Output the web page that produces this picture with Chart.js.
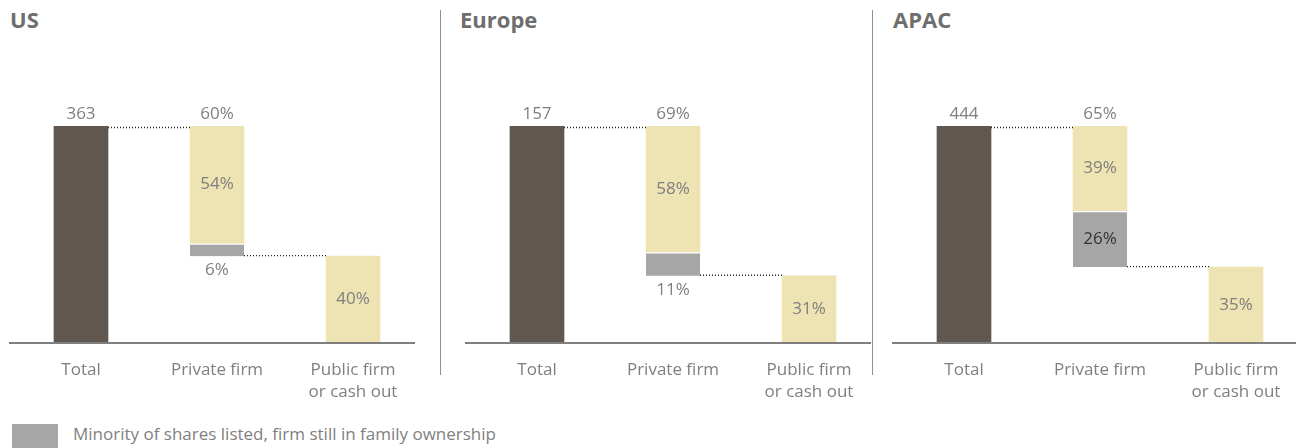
<!DOCTYPE html>
<html>
<head>
<meta charset="utf-8">
<script src="https://cdn.jsdelivr.net/npm/chart.js@4.4.1/dist/chart.umd.min.js"></script>
<style>
  html, body { margin: 0; padding: 0; background: #fff; }
  body { width: 1296px; height: 448px; position: relative; overflow: hidden; font-family: 'Open Sans', sans-serif; }
  .title { position: absolute; top: 4px; font-size: 22px; font-weight: bold; color: #6e6e6e; }
  .sep { position: absolute; top: 10px; width: 1px; height: 365px; background: #8f8f8f; }
  .panel { position: absolute; top: 90px; width: 428px; height: 320px; }
  .legend-box { position: absolute; left: 12px; top: 424px; width: 46px; height: 24px; background: #a6a6a6; }
  .legend-text { position: absolute; left: 73px; top: 422px; font-size: 17px; color: #7f7f7f; }
</style>
</head>
<body>
<div class="title" style="left:10px">US</div>
<div class="title" style="left:460px">Europe</div>
<div class="title" style="left:893px">APAC</div>
<div class="sep" style="left:440px"></div>
<div class="sep" style="left:872px"></div>
<div class="panel" style="left:3px"><canvas id="chart0"></canvas></div>
<div class="panel" style="left:459px"><canvas id="chart1"></canvas></div>
<div class="panel" style="left:886px"><canvas id="chart2"></canvas></div>
<div class="legend-box"></div>
<div class="legend-text">Minority of shares listed, firm still in family ownership</div>

<script>
var categories = ['Total', 'Private firm', ['Public firm', 'or cash out']];
var regions = ['US', 'Europe', 'APAC'];
var totals = [363, 157, 444];
var privateShare = [60, 69, 65];
var privateFamily = [54, 58, 39];
var privateMinority = [6, 11, 26];
var publicShare = [40, 31, 35];

var brown = '#5f5750';
var yellow = '#ede3b3';
var grey = '#a6a6a6';
var textGrey = '#7f7f7f';
var labelFont = '17px "Open Sans", sans-serif';

// labels and dotted connectors drawn from the bar elements
var waterfallPlugin = {
    id: 'waterfall',
    afterDatasetsDraw: function(chart) {
        var ctx = chart.ctx;
        var i = chart.options.plugins.waterfall.region;
        var totalBar = chart.getDatasetMeta(0).data[0];
        var famBar = chart.getDatasetMeta(1).data[1];
        var pubBar = chart.getDatasetMeta(1).data[2];
        var minBar = chart.getDatasetMeta(2).data[1];
        var area = chart.chartArea;

        ctx.save();
        // baseline
        ctx.strokeStyle = '#7f7f7f';
        ctx.lineWidth = 2;
        ctx.beginPath();
        ctx.moveTo(totalBar.x - 72, area.bottom);
        ctx.lineTo(pubBar.x + 62, area.bottom);
        ctx.stroke();

        // dotted connectors
        ctx.strokeStyle = '#222';
        ctx.lineWidth = 1.3;
        ctx.setLineDash([1, 2]);
        ctx.beginPath();
        ctx.moveTo(totalBar.x + 27, totalBar.y + 1.5);
        ctx.lineTo(famBar.x - 27, totalBar.y + 1.5);
        ctx.moveTo(minBar.x + 27, minBar.base - 0.5);
        ctx.lineTo(pubBar.x - 27, minBar.base - 0.5);
        ctx.stroke();
        ctx.setLineDash([]);

        ctx.font = labelFont;
        ctx.textAlign = 'center';
        ctx.textBaseline = 'middle';
        ctx.fillStyle = textGrey;
        ctx.fillText(totals[i], totalBar.x, totalBar.y - 12);
        ctx.fillText(privateShare[i] + '%', famBar.x, famBar.y - 12);
        ctx.fillText(privateFamily[i] + '%', famBar.x, (famBar.y + famBar.base) / 2);
        ctx.fillText(publicShare[i] + '%', pubBar.x, (pubBar.y + pubBar.base) / 2);
        if (minBar.base - minBar.y > 30) {
            ctx.fillStyle = '#333';
            ctx.fillText(privateMinority[i] + '%', minBar.x, (minBar.y + minBar.base) / 2);
        } else {
            ctx.fillText(privateMinority[i] + '%', minBar.x, minBar.base + 14);
        }
        ctx.restore();
    }
};

regions.forEach(function(region, i) {
    var ctx = document.getElementById('chart' + i).getContext('2d');
    new Chart(ctx, {
        type: 'bar',
        data: {
            labels: categories,
            datasets: [{
                label: 'Total',
                backgroundColor: brown,
                data: [[0, 100], null, null]
            }, {
                label: 'Family owned',
                backgroundColor: yellow,
                data: [null, [100 - privateFamily[i], 100], [0, publicShare[i]]]
            }, {
                label: 'Minority of shares listed',
                backgroundColor: grey,
                borderColor: '#fff',
                borderWidth: { top: 2, left: 0, right: 0, bottom: 0 },
                borderSkipped: false,
                data: [null, [100 - privateShare[i], 100 - privateFamily[i]], null]
            }]
        },
        plugins: [waterfallPlugin],
        options: {
            responsive: true,
            maintainAspectRatio: false,
            animation: false,
            layout: { padding: { top: 36, left: 10, right: 10, bottom: 0 } },
            datasets: { bar: { grouped: false, barThickness: 54 } },
            plugins: {
                legend: { display: false },
                tooltip: { enabled: false },
                waterfall: { region: i }
            },
            scales: {
                x: {
                    grid: { display: false, drawTicks: false },
                    border: { display: false },
                    ticks: {
                        color: textGrey,
                        font: { family: '"Open Sans", sans-serif', size: 17, lineHeight: 1.25 },
                        padding: 17,
                        maxRotation: 0,
                        autoSkip: false
                    },
                    afterFit: function(scale) { scale.height = 67; }
                },
                y: {
                    display: false,
                    min: 0,
                    max: 100
                }
            }
        }
    });
});
</script>
</body>
</html>
